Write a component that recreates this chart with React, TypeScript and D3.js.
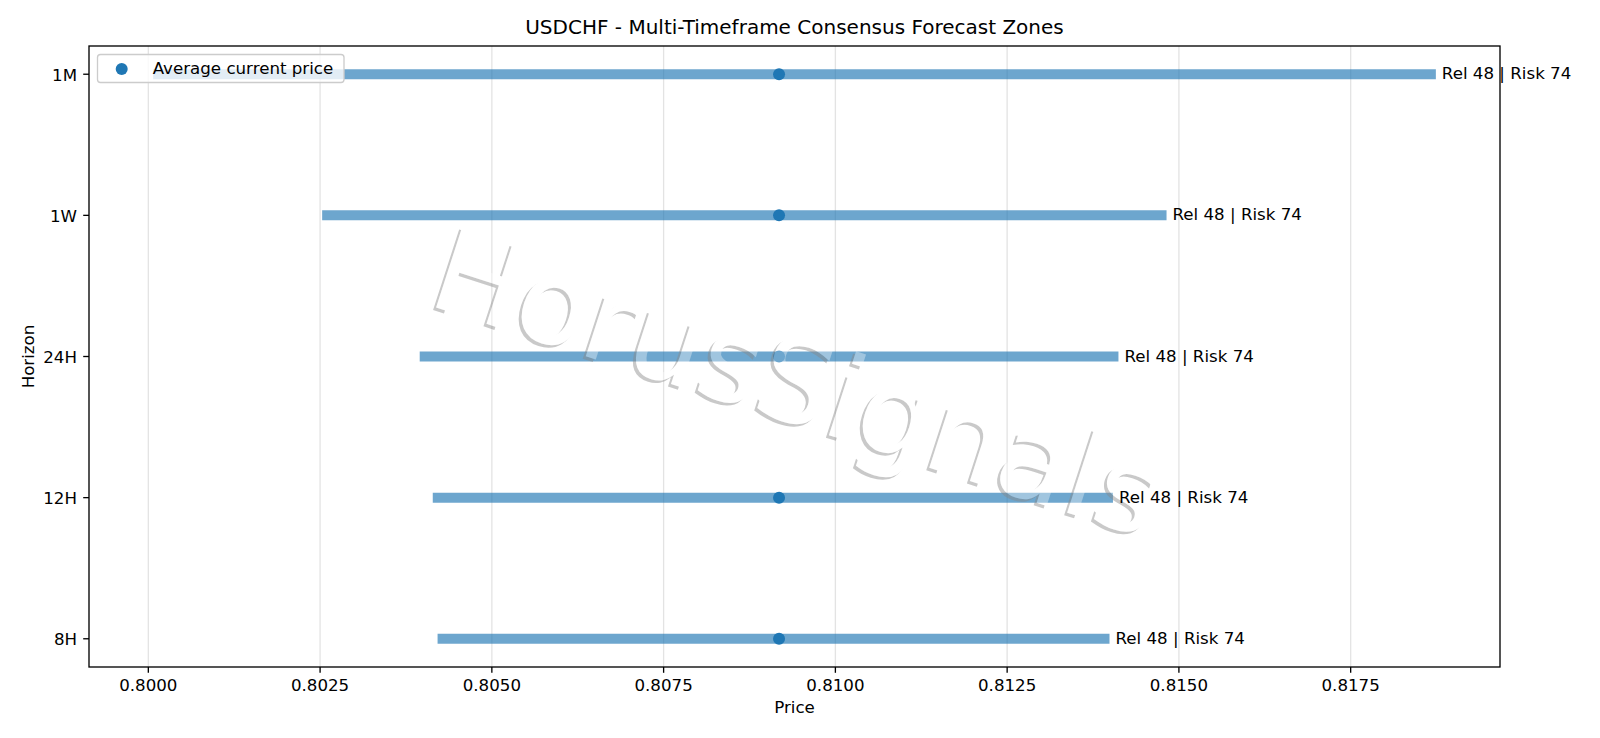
import * as d3 from 'd3';

const horizons = ['8H', '12H', '24H', '1W', '1M'];
const zoneLow = [0.80421, 0.80414, 0.80395, 0.80253, 0.80007];
const zoneHigh = [0.81399, 0.81404, 0.81412, 0.81482, 0.81874];
const currentPrice = [0.80918, 0.80918, 0.80918, 0.80918, 0.80918];
const reliability = [48, 48, 48, 48, 48];
const risk = [74, 74, 74, 74, 74];
const priceTicks = [0.8, 0.8025, 0.805, 0.8075, 0.81, 0.8125, 0.815, 0.8175];

const W = 1600;
const H = 738;
const margin = { left: 89, right: 1500, top: 46, bottom: 667 };
const FONT = '"DejaVu Sans", sans-serif';
const BLUE = '#1f77b4';

export default function App() {
  // matplotlib-like autoscale with 5% padding
  const lo = d3.min(zoneLow)!;
  const hi = d3.max(zoneHigh)!;
  const pad = (hi - lo) * 0.05;
  const x = d3.scaleLinear().domain([lo - pad, hi + pad]).range([margin.left, margin.right]);
  const y = d3
    .scaleLinear()
    .domain([-0.2, horizons.length - 1 + 0.2])
    .range([margin.bottom, margin.top]);

  // watermark, anchored on its baseline midpoint
  const wmX = 785;
  const wmY = 421;
  const wmRot = 18;
  const wmSize = 116;
  const wmText = 'HorusSignals';

  return (
    <svg
      width={W}
      height={H}
      style={{ position: 'absolute', left: 0, top: 0, background: '#fff' }}
      fontFamily={FONT}
    >
      <defs>
        <mask id="wm-mask" maskUnits="userSpaceOnUse" x={0} y={0} width={W} height={H}>
          <rect x={0} y={0} width={W} height={H} fill="#fff" />
          <text
            transform={`translate(${wmX},${wmY}) rotate(${wmRot})`}
            textAnchor="middle"
            fontSize={wmSize}
            fill="#000"
          >
            {wmText}
          </text>
        </mask>
      </defs>

      {/* grid */}
      {priceTicks.map((t) => (
        <line
          key={`g${t}`}
          x1={x(t)}
          x2={x(t)}
          y1={margin.top}
          y2={margin.bottom}
          stroke="#b0b0b0"
          strokeOpacity={0.35}
          strokeWidth={1.3}
        />
      ))}

      {/* zones */}
      {horizons.map((h, i) => (
        <line
          key={`z${h}`}
          x1={x(zoneLow[i])}
          x2={x(zoneHigh[i])}
          y1={y(i)}
          y2={y(i)}
          stroke={BLUE}
          strokeOpacity={0.65}
          strokeWidth={10}
        />
      ))}
      {horizons.map((h, i) => (
        <circle key={`c${h}`} cx={x(currentPrice[i])} cy={y(i)} r={6} fill={BLUE} />
      ))}

      {/* watermark: grey shadow peeking out bottom-left, translucent white face */}
      <g mask="url(#wm-mask)">
        <text
          transform={`translate(${wmX - 3},${wmY + 2.5}) rotate(${wmRot})`}
          textAnchor="middle"
          fontSize={wmSize}
          fill="#888"
          fillOpacity={0.45}
        >
          {wmText}
        </text>
      </g>
      <text
        transform={`translate(${wmX},${wmY}) rotate(${wmRot})`}
        textAnchor="middle"
        fontSize={wmSize}
        fill="#fff"
        fillOpacity={0.35}
      >
        {wmText}
      </text>

      {/* labels */}
      {horizons.map((h, i) => (
        <text
          key={`l${h}`}
          x={x(zoneHigh[i]) + 6}
          y={y(i) + 5}
          fontSize={16.67}
          fill="#000"
        >
          {`Rel ${reliability[i]} | Risk ${risk[i]}`}
        </text>
      ))}

      {/* spines */}
      <rect
        x={margin.left}
        y={margin.top}
        width={margin.right - margin.left}
        height={margin.bottom - margin.top}
        fill="none"
        stroke="#000"
        strokeWidth={1.33}
      />

      {/* x ticks */}
      {priceTicks.map((t) => (
        <g key={`xt${t}`}>
          <line x1={x(t)} x2={x(t)} y1={margin.bottom} y2={margin.bottom + 5.8} stroke="#000" strokeWidth={1.33} />
          <text x={x(t)} y={691} textAnchor="middle" fontSize={16.67} fill="#000">
            {d3.format('.4f')(t)}
          </text>
        </g>
      ))}

      {/* y ticks */}
      {horizons.map((h, i) => (
        <g key={`yt${h}`}>
          <line x1={margin.left - 5.8} x2={margin.left} y1={y(i)} y2={y(i)} stroke="#000" strokeWidth={1.33} />
          <text x={77} y={y(i) + 6.3} textAnchor="end" fontSize={16.67} fill="#000">
            {h}
          </text>
        </g>
      ))}

      {/* axis labels & title */}
      <text x={(margin.left + margin.right) / 2} y={713} textAnchor="middle" fontSize={16.67} fill="#000">
        Price
      </text>
      <text
        transform={`translate(34,${(margin.top + margin.bottom) / 2}) rotate(-90)`}
        textAnchor="middle"
        fontSize={16.67}
        fill="#000"
      >
        Horizon
      </text>
      <text x={(margin.left + margin.right) / 2} y={34} textAnchor="middle" fontSize={20} fill="#000">
        USDCHF - Multi-Timeframe Consensus Forecast Zones
      </text>

      {/* legend */}
      <g>
        <rect
          x={97.5}
          y={54.5}
          width={246.5}
          height={28}
          rx={3}
          fill="#fff"
          fillOpacity={0.8}
          stroke="#cccccc"
          strokeWidth={1.33}
        />
        <circle cx={121.7} cy={69} r={6} fill={BLUE} />
        <text x={152.7} y={74} fontSize={16.67} fill="#000">
          Average current price
        </text>
      </g>
    </svg>
  );
}
